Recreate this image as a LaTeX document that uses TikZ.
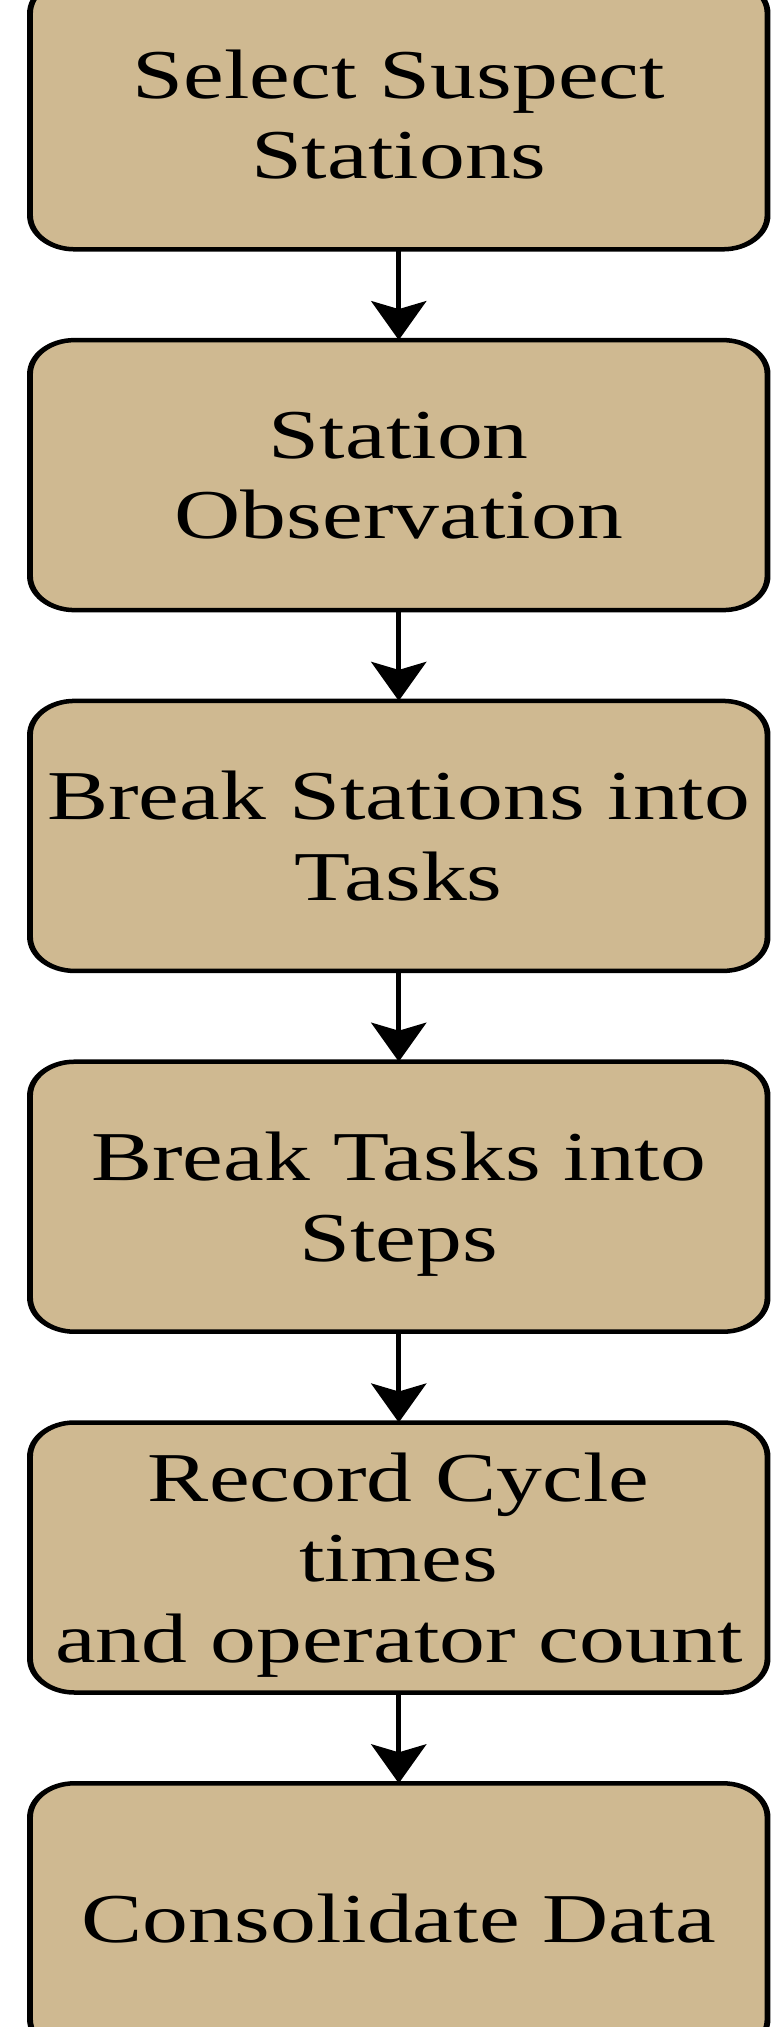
\documentclass[tikz,border=0pt]{standalone}
\usepackage{fontspec}
\setmainfont{Liberation Serif}
\usetikzlibrary{arrows.meta}
\definecolor{boxtan}{HTML}{CFB991}
\begin{document}
\begin{tikzpicture}[x=1pt,y=-1pt,
  stepbox/.style={draw=black, line width=4.5pt, fill=boxtan, rounded corners=34pt,
    minimum width=563pt, minimum height=270pt, inner sep=0pt, outer sep=0pt,
    align=center, text depth=0pt, font=\fontsize{70pt}{80.5pt}\selectfont},
  arr/.style={line width=4pt, -{Stealth[length=39pt, width=42pt, inset=8pt]}}]
\useasboundingbox (0,0) rectangle (774,2027);
\begin{scope}[transform canvas={xscale=1.31}]
\node[stepbox] (s1) at (304.4,114.3) {Select Suspect\\Stations};
\node[stepbox] (s2) at (304.4,475.1) {Station\\Observation};
\node[stepbox] (s3) at (304.4,835.9) {Break Stations into\\Tasks};
\node[stepbox] (s4) at (304.4,1196.7) {Break Tasks into\\Steps};
\node[stepbox] (s5) at (304.4,1557.5) {Record Cycle\\times\\and operator count};
\node[stepbox] (s6) at (304.4,1918.3) {Consolidate Data};
\draw[arr] (s1) -- (s2);
\draw[arr] (s2) -- (s3);
\draw[arr] (s3) -- (s4);
\draw[arr] (s4) -- (s5);
\draw[arr] (s5) -- (s6);
\end{scope}
\end{tikzpicture}
\end{document}
